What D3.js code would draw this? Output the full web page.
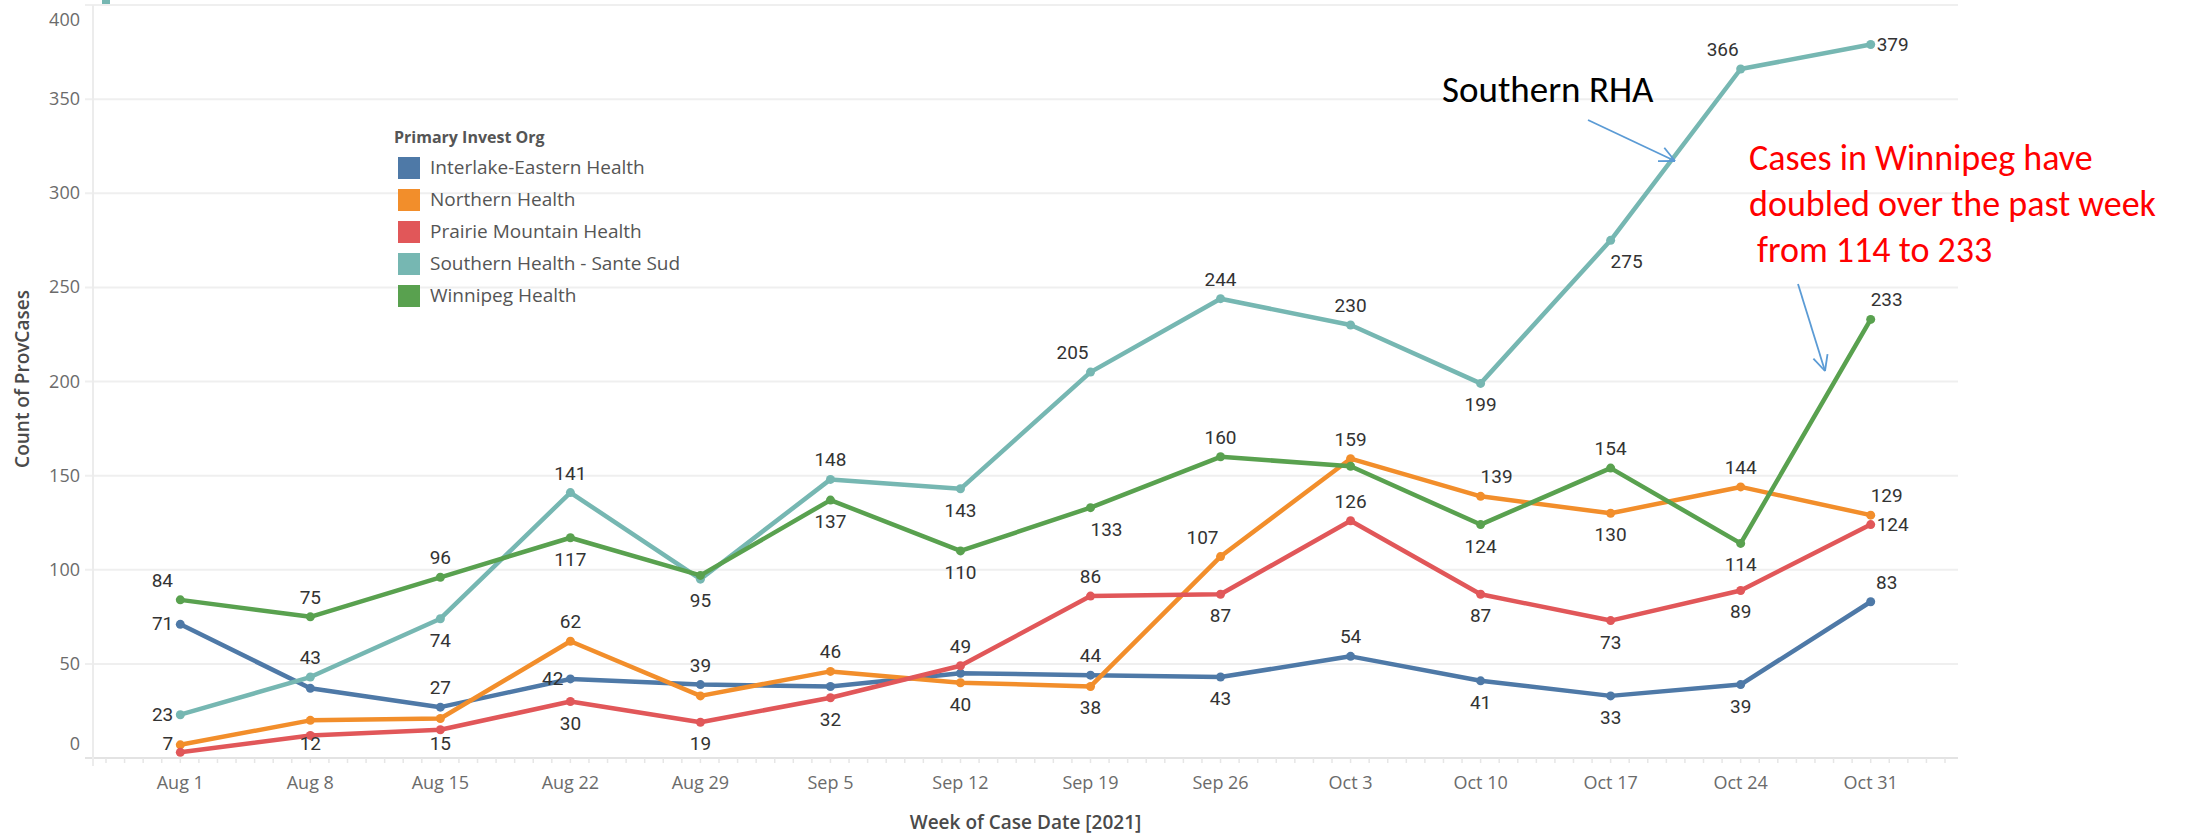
<!DOCTYPE html>
<html>
<head>
<meta charset="utf-8">
<script src="https://cdn.jsdelivr.net/npm/d3@7"></script>
<style>
body { margin: 0; background: #fff; }
svg text { font-family: "Open Sans", sans-serif; }
</style>
</head>
<body>
<div id="chart"></div>
<script>
// weekly case counts by region
var weeks = ["2021-08-01", "2021-08-08", "2021-08-15", "2021-08-22", "2021-08-29", "2021-09-05", "2021-09-12",
             "2021-09-19", "2021-09-26", "2021-10-03", "2021-10-10", "2021-10-17", "2021-10-24", "2021-10-31"];
var weekLabels = ["Aug 1", "Aug 8", "Aug 15", "Aug 22", "Aug 29", "Sep 5", "Sep 12",
                  "Sep 19", "Sep 26", "Oct 3", "Oct 10", "Oct 17", "Oct 24", "Oct 31"];
var seriesNames = ["Interlake-Eastern Health", "Northern Health", "Prairie Mountain Health",
                   "Southern Health - Sante Sud", "Winnipeg Health"];
var interlake = [71, 37, 27, 42, 39, 38, 45, 44, 43, 54, 41, 33, 39, 83];
var northern  = [7, 20, 21, 62, 33, 46, 40, 38, 107, 159, 139, 130, 144, 129];
var prairie   = [3, 12, 15, 30, 19, 32, 49, 86, 87, 126, 87, 73, 89, 124];
var southern  = [23, 43, 74, 141, 95, 148, 143, 205, 244, 230, 199, 275, 366, 379];
var winnipeg  = [84, 75, 96, 117, 97, 137, 110, 133, 160, 155, 124, 154, 114, 233];
var yTicks = [0, 50, 100, 150, 200, 250, 300, 350, 400];

var colors = ["#4e79a7", "#f28e2b", "#e15759", "#76b7b2", "#59a14f"];

// where Tableau put each mark label ("" = hidden)
var labelPos = [
    ["l", "", "a", "l", "a", "", "", "a", "b", "a", "b", "b", "b", "ar"],
    ["l", "", "", "a", "", "a", "b", "b", "al", "a", "ar", "b", "a", "ar"],
    ["", "b", "b", "b", "b", "b", "a", "a", "b", "a", "b", "b", "b", "r"],
    ["l", "a", "b", "a", "b", "a", "b", "al", "a", "a", "b", "br", "al", "r"],
    ["al", "a", "a", "b", "", "b", "b", "br", "a", "", "b", "a", "b", "ar"]
];

var width = 2187, height = 834;
var plotLeft = 93, plotRight = 1958, plotTop = 5, plotBottom = 758;

var parseDate = d3.timeParse("%Y-%m-%d");
var dates = weeks.map(parseDate);
var pad = 4.7 * 24 * 3600 * 1000;

var x = d3.scaleTime()
    .domain([new Date(+dates[0] - pad), new Date(+dates[dates.length - 1] + pad)])
    .range([plotLeft, plotRight]);
var y = d3.scaleLinear().domain([0, 400]).range([plotBottom, plotTop]);

var svg = d3.select("#chart").append("svg")
    .attr("width", width)
    .attr("height", height);

// gridlines
svg.append("g").selectAll("line")
    .data(yTicks)
    .enter().append("line")
    .attr("x1", plotLeft - 8).attr("x2", plotRight)
    .attr("y1", d => y(d)).attr("y2", d => y(d))
    .attr("stroke", d => d === 0 ? "#e3e3e3" : "#efefef")
    .attr("stroke-width", 2);

svg.append("line")
    .attr("x1", plotLeft).attr("x2", plotLeft)
    .attr("y1", plotTop).attr("y2", plotBottom + 8)
    .attr("stroke", "#ececec").attr("stroke-width", 2);

// y tick labels, kept inside the pane like Tableau does
svg.append("g").selectAll("text")
    .data(yTicks)
    .enter().append("text")
    .attr("x", 80)
    .attr("y", d => Math.max(20, Math.min(744, y(d))) + 6)
    .attr("text-anchor", "end")
    .attr("fill", "#6b6b6b")
    .style("font-size", "18px")
    .text(d => d);

// x axis: minor day ticks + week labels
var days = d3.timeDay.range(x.domain()[0], x.domain()[1]);
svg.append("g").selectAll("line")
    .data(days)
    .enter().append("line")
    .attr("x1", d => x(d)).attr("x2", d => x(d))
    .attr("y1", plotBottom).attr("y2", plotBottom + 5)
    .attr("stroke", "#e6e6e6").attr("stroke-width", 1.5);

svg.append("g").selectAll("text")
    .data(dates)
    .enter().append("text")
    .attr("x", d => x(d))
    .attr("y", 789)
    .attr("text-anchor", "middle")
    .attr("fill", "#6b6b6b")
    .style("font-size", "18px")
    .text((d, i) => weekLabels[i]);

svg.append("text")
    .attr("x", (plotLeft + plotRight) / 2)
    .attr("y", 829)
    .attr("text-anchor", "middle")
    .attr("fill", "#4a4a4a")
    .style("font-size", "19px")
    .style("font-weight", 600)
    .text("Week of Case Date [2021]");

svg.append("text")
    .attr("transform", "translate(29,379) rotate(-90)")
    .attr("text-anchor", "middle")
    .attr("fill", "#4a4a4a")
    .style("font-size", "19px")
    .style("font-weight", 600)
    .text("Count of ProvCases");

// little teal fragment at the top left of the sheet
svg.append("rect")
    .attr("x", 102).attr("y", 0).attr("width", 8).attr("height", 4)
    .attr("fill", colors[3]);

var allSeries = [interlake, northern, prairie, southern, winnipeg];

var line = d3.line()
    .x((d, i) => x(dates[i]))
    .y(d => y(d));

var series = svg.append("g").selectAll("g")
    .data(allSeries)
    .enter().append("g");

series.append("path")
    .attr("d", d => line(d))
    .attr("fill", "none")
    .attr("stroke", (d, i) => colors[i])
    .attr("stroke-width", 4.5)
    .attr("stroke-linejoin", "round");

series.each(function(vals, s) {
    d3.select(this).selectAll("circle")
        .data(vals)
        .enter().append("circle")
        .attr("cx", (d, i) => x(dates[i]))
        .attr("cy", d => y(d))
        .attr("r", 4.5)
        .attr("fill", colors[s]);
});

// mark labels
var labels = svg.append("g");
allSeries.forEach(function(vals, s) {
    vals.forEach(function(v, i) {
        var pos = labelPos[s][i];
        if (!pos) return;
        var px = x(dates[i]), py = y(v);
        var dx = 0, dy = -13, anchor = "middle";
        if (pos[0] === "b") dy = 28;
        if (pos === "l") { anchor = "end"; dx = -7; dy = 6; }
        if (pos === "r") { anchor = "start"; dx = 6; dy = 6; }
        if (pos.length === 2) dx = pos[1] === "l" ? -18 : 16;
        labels.append("text")
            .attr("x", px + dx)
            .attr("y", Math.min(750, py + dy))
            .attr("text-anchor", anchor)
            .attr("fill", "#333")
            .style("font-family", "Roboto, sans-serif")
            .style("font-size", "19px")
            .text(v);
    });
});

// legend
var legend = svg.append("g").attr("transform", "translate(394,143)");
legend.append("text")
    .attr("fill", "#555")
    .style("font-size", "16px")
    .style("font-weight", "bold")
    .text("Primary Invest Org");
var items = legend.selectAll("g.item")
    .data(seriesNames)
    .enter().append("g")
    .attr("class", "item")
    .attr("transform", (d, i) => "translate(4," + (14 + i * 32) + ")");
items.append("rect")
    .attr("width", 22).attr("height", 22)
    .attr("fill", (d, i) => colors[i]);
items.append("text")
    .attr("x", 32).attr("y", 17)
    .attr("fill", "#555")
    .style("font-size", "19px")
    .text(d => d);

// annotations
var annoFont = "Carlito, Calibri, 'Noto Sans', sans-serif";
svg.append("text")
    .attr("x", 1442).attr("y", 102)
    .attr("fill", "#000")
    .style("font-family", annoFont)
    .style("font-size", "37px")
    .text("Southern RHA");

var redLines = ["Cases in Winnipeg have", "doubled over the past week", " from 114 to 233"];
svg.append("g").selectAll("text")
    .data(redLines)
    .enter().append("text")
    .attr("x", (d, i) => i === 2 ? 1757 : 1749)
    .attr("y", (d, i) => 170 + i * 46)
    .attr("fill", "#ff0000")
    .style("font-family", annoFont)
    .style("font-size", "36px")
    .text(d => d.trim());

function arrow(x1, y1, x2, y2) {
    var g = svg.append("g")
        .attr("stroke", "#5b9bd5")
        .attr("stroke-width", 1.8)
        .attr("fill", "none");
    g.append("line").attr("x1", x1).attr("y1", y1).attr("x2", x2).attr("y2", y2);
    var a = Math.atan2(y2 - y1, x2 - x1), len = 17;
    [-0.45, 0.45].forEach(function(off) {
        g.append("line")
            .attr("x1", x2).attr("y1", y2)
            .attr("x2", x2 - len * Math.cos(a + off))
            .attr("y2", y2 - len * Math.sin(a + off));
    });
}
arrow(1588, 120, 1675, 161);
arrow(1798, 284, 1825, 371);
</script>
</body>
</html>
